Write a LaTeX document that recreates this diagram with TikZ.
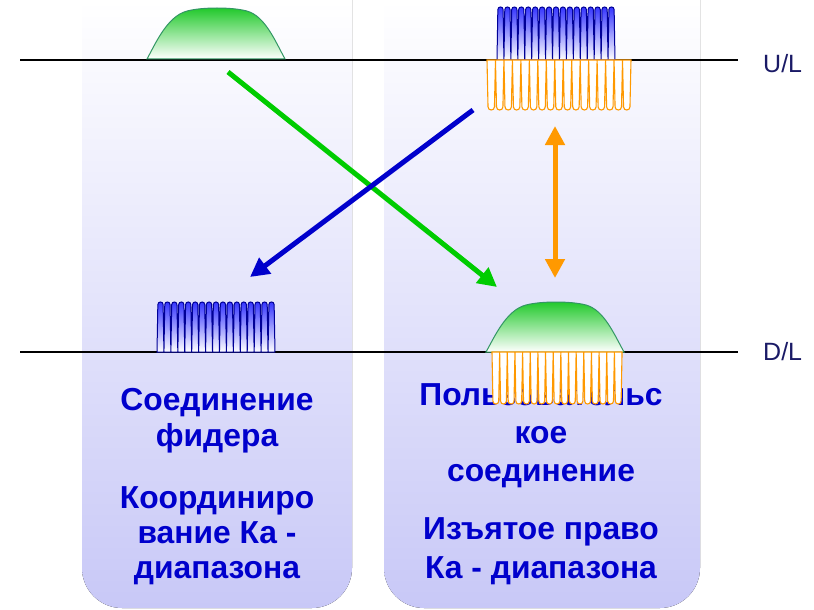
\documentclass[tikz,border=0pt]{standalone}
\usepackage{fontspec}
\setmainfont{Liberation Sans}
\usetikzlibrary{arrows.meta}
\definecolor{panelblue}{RGB}{200,200,247}
\definecolor{textblue}{RGB}{0,0,204}
\definecolor{labelnavy}{RGB}{26,26,102}
\definecolor{humpgreen}{RGB}{30,200,40}
\definecolor{humpedge}{RGB}{50,150,100}
\definecolor{combblue}{RGB}{0,0,150}
\definecolor{comborange}{RGB}{255,153,0}
\definecolor{arrowgreen}{RGB}{0,204,0}
\definecolor{arrowblue}{RGB}{0,0,204}
% one row of 17 teeth: style, left x, base y, direction (1 up, -1 down), height, tooth width
\newcommand{\archrow}[6]{%
    \path[#1] (#2,#3) \foreach \k in {0,...,16}{
        -- ({#2+\k*#6},#3) -- ({#2+(\k+0.12)*#6},{#3-#4*(#5-0.38*#6)})
        .. controls ({#2+(\k+0.12)*#6},{#3-#4*(#5+0.127*#6)}) and ({#2+(\k+0.88)*#6},{#3-#4*(#5+0.127*#6)})
        .. ({#2+(\k+0.88)*#6},{#3-#4*(#5-0.38*#6)}) -- ({#2+(\k+1)*#6},#3)} -- cycle;}
% carrier hump: left x, base y, vertical scale
\newcommand{\hump}[3]{%
    \begin{scope}[shift={(#1,#2)},yscale=#3]
        \path[humpfill] (0,0) .. controls (8,-14) and (20,-42) .. (40,-47)
            .. controls (55,-51) and (85,-51) .. (100,-47)
            .. controls (118,-42) and (128,-18) .. (138,0) -- cycle;
    \end{scope}}
\begin{document}
\begin{tikzpicture}[x=1pt,y=-1pt,
    panel/.style={top color=white,bottom color=panelblue,draw=none},
    bandline/.style={draw=black,line width=2pt},
    bandlabel/.style={text=labelnavy,font=\fontsize{25}{29}\selectfont,anchor=west,inner sep=0pt},
    humpfill/.style={top color=humpgreen,bottom color=white,draw=humpedge,line width=1pt},
    bluecomb/.style={top color=blue!80,middle color=blue!15,bottom color=white,draw=combblue,line width=1pt},
    orangecomb/.style={fill=white,draw=comborange,line width=1.1pt},
    caption/.style={text=textblue,font=\bfseries\fontsize{31.8}{38}\selectfont,anchor=base,inner sep=0pt},
    bigarrow/.style={line width=5pt,-{Triangle[length=19pt,width=19pt]}}]
    \useasboundingbox (0,0) rectangle (814,610);
    % the two panels
    \fill[panel,rounded corners=40pt] (82,0) -- (82,608) -- (352,608) -- (352,0);
    \fill[panel,rounded corners=40pt] (384,0) -- (384,608) -- (700,608) -- (700,0);
    % up and down links
    \coordinate (ulL) at (20,60);
    \coordinate (ulR) at (738,60);
    \coordinate (dlL) at (20,352);
    \coordinate (dlR) at (738,352);
    \draw[bandline] (ulL) -- (ulR);
    \draw[bandline] (dlL) -- (dlR);
    \node[bandlabel] (ul) at (763,64) {U/L};
    \node[bandlabel] (dl) at (763,352) {D/L};
    % spectra
    \hump{147}{59}{1.02}
    \archrow{bluecomb}{497}{60}{1}{53}{6.94}
    \archrow{orangecomb}{487}{60}{-1}{50}{8.47}
    \archrow{bluecomb}{157}{352}{1}{50}{6.94}
    \hump{486}{352}{1}
    % arrows
    \coordinate (gsrc) at (228,72);
    \coordinate (gdst) at (497,287);
    \coordinate (bsrc) at (473,110);
    \coordinate (bdst) at (250,277);
    \coordinate (otop) at (555,126);
    \coordinate (obot) at (555,278);
    \draw[bigarrow,arrowgreen] (gsrc) -- (gdst);
    \draw[bigarrow,arrowblue] (bsrc) -- (bdst);
    \draw[bigarrow,comborange,{Triangle[length=19pt,width=19pt]}-{Triangle[length=19pt,width=19pt]}] (otop) -- (obot);
    % texts
    \node[caption] (feed) at (217,410) {Соединение};
    \node[caption] (feedb) at (217,446) {фидера};
    \node[caption] (coord) at (217,508) {Координиро};
    \node[caption] (coordb) at (217,543) {вание Ка -};
    \node[caption] (coordc) at (217,578) {диапазона};
    \node[caption] (user) at (541,405) {Пользовательс};
    \node[caption] (userb) at (541,443) {кое};
    \node[caption] (userc) at (541,481) {соединение};
    \node[caption] (excl) at (541,539) {Изъятое право};
    \node[caption] (exclb) at (541,578) {Ка - диапазона};
    \archrow{orangecomb}{492}{352}{-1}{52}{7.65}
\end{tikzpicture}
\end{document}
